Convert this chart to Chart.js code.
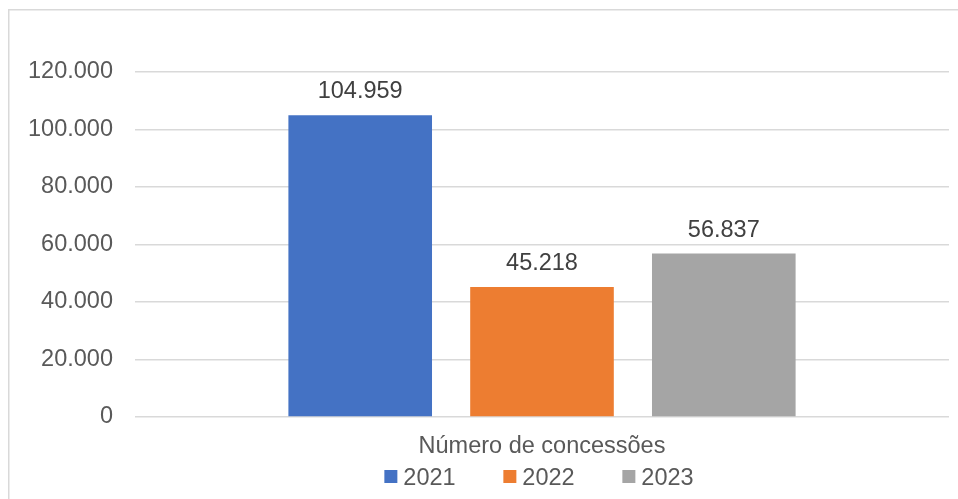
<!DOCTYPE html>
<html>
<head>
<meta charset="utf-8">
<script src="https://cdn.jsdelivr.net/npm/chart.js@4"></script>
<style>
  html, body { margin: 0; padding: 0; background: #fff; }
  #wrap { width: 958px; height: 499px; }
</style>
</head>
<body>
<div id="wrap"><canvas id="concessoesChart"></canvas></div>
<script>
const categories = ["Número de concessões"];
const years = ["2021", "2022", "2023"];
const values = [104959, 45218, 56837];
const colors = ["#4472C4", "#ED7D31", "#A5A5A5"];
const yTicks = [0, 20000, 40000, 60000, 80000, 100000, 120000];

const FONT = "'Liberation Sans', Arial, sans-serif";
const SIZE = 23.5;

// 120000 -> "120.000"
const fmt = v => String(Math.round(v)).replace(/\B(?=(\d{3})+(?!\d))/g, ".");

// outer frame of the chart area
const framePlugin = {
  id: "frame",
  beforeDraw(chart) {
    const c = chart.ctx;
    c.save();
    c.strokeStyle = "#d9d9d9";
    c.lineWidth = 1.5;
    c.strokeRect(8.75, 9.75, 2000, 2000);
    c.restore();
  }
};

// value labels above each bar
const valueLabels = {
  id: "valueLabels",
  afterDatasetsDraw(chart) {
    const c = chart.ctx;
    c.save();
    c.font = SIZE + "px " + FONT;
    c.fillStyle = "#404040";
    c.textAlign = "center";
    c.textBaseline = "alphabetic";
    chart.data.datasets.forEach((ds, i) => {
      chart.getDatasetMeta(i).data.forEach((bar, j) => {
        c.fillText(fmt(ds.data[j]), bar.x, bar.y - 17);
      });
    });
    c.restore();
  }
};

// legend row under the axis label, centred on the plot
const bottomLegend = {
  id: "bottomLegend",
  afterDraw(chart) {
    const c = chart.ctx;
    const box = 13, gapText = 6, step = 119, baseline = 485;
    c.save();
    c.font = SIZE + "px " + FONT;
    const items = chart.data.datasets.map(ds => ({
      label: ds.label, color: ds.backgroundColor, w: c.measureText(ds.label).width
    }));
    const last = items[items.length - 1];
    const total = step * (items.length - 1) + box + gapText + last.w;
    const area = chart.chartArea;
    const x0 = (area.left + area.right) / 2 - total / 2 - 3;
    c.textBaseline = "alphabetic";
    c.textAlign = "left";
    items.forEach((it, i) => {
      const x = x0 + i * step;
      c.fillStyle = it.color;
      c.fillRect(x, baseline - 15, box, box);
      c.fillStyle = "#595959";
      c.fillText(it.label, x + box + gapText, baseline);
    });
    c.restore();
  }
};

new Chart(document.getElementById("concessoesChart"), {
  type: "bar",
  data: {
    labels: categories,
    datasets: years.map((y, i) => ({
      label: y,
      data: [values[i]],
      backgroundColor: colors[i],
      categoryPercentage: 0.67,
      barPercentage: 0.79
    }))
  },
  options: {
    responsive: true,
    maintainAspectRatio: false,
    animation: false,
    layout: { padding: { top: 72, right: 9, bottom: 0, left: 0 } },
    plugins: {
      legend: { display: false },
      tooltip: { enabled: false }
    },
    scales: {
      x: {
        grid: { display: false, drawTicks: false },
        border: { display: false },
        ticks: {
          padding: 15,
          color: "#595959",
          font: { family: FONT, size: SIZE }
        },
        afterFit(scale) { scale.height = 82; }
      },
      y: {
        min: 0,
        max: 120000,
        afterBuildTicks(scale) { scale.ticks = yTicks.map(v => ({ value: v })); },
        grid: { color: "#d9d9d9", lineWidth: 1.5, drawTicks: false },
        border: { display: false },
        ticks: {
          padding: 22,
          color: "#595959",
          font: { family: FONT, size: SIZE },
          callback: v => fmt(v)
        },
        afterFit(scale) { scale.width = 135; }
      }
    }
  },
  plugins: [framePlugin, valueLabels, bottomLegend]
});
</script>
</body>
</html>
